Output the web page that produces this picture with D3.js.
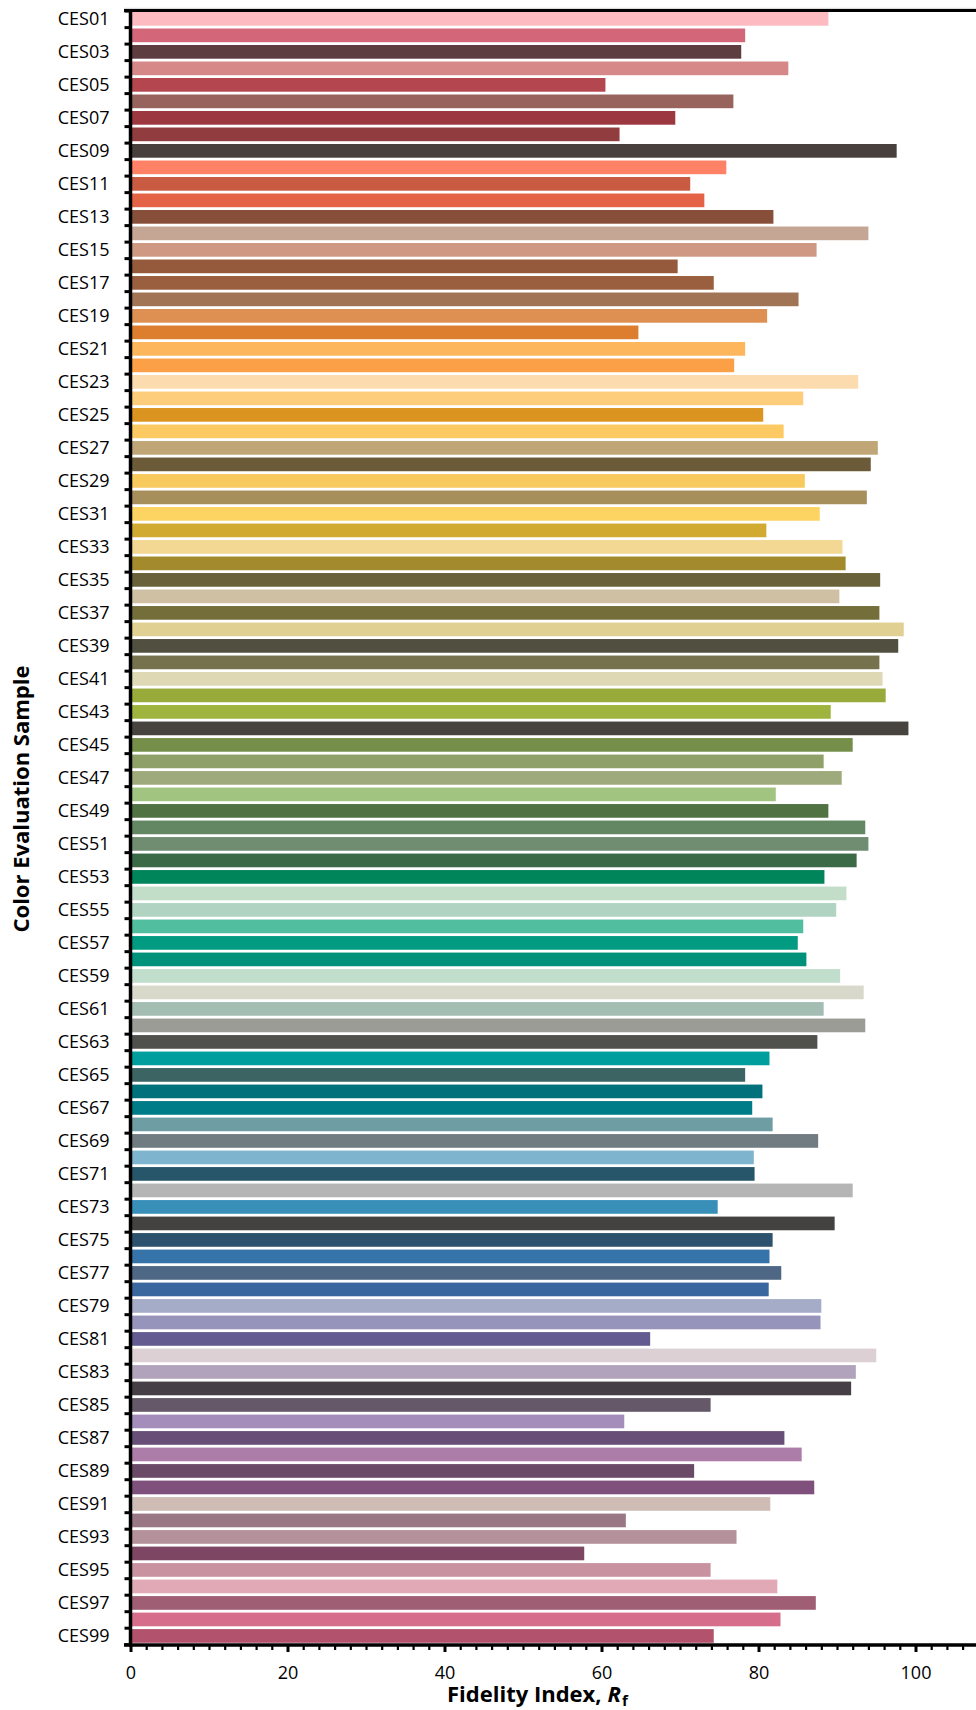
<!DOCTYPE html>
<html>
<head>
<meta charset="utf-8">
<script src="https://cdn.jsdelivr.net/npm/d3@7"></script>
<style>
  html, body { margin: 0; padding: 0; background: #fff; }
  svg { display: block; }
</style>
</head>
<body>
<script>
// ---------------- data ----------------
const samples = d3.range(1, 100).map(i => "CES" + String(i).padStart(2, "0"));

const fidelity = [
  88.9, 78.3, 77.8, 83.8, 60.5, 76.8, 69.4, 62.3, 97.6, 75.9,
  71.3, 73.1, 81.9, 94.0, 87.4, 69.7, 74.3, 85.1, 81.1, 64.7,
  78.3, 76.9, 92.7, 85.7, 80.6, 83.2, 95.2, 94.3, 85.9, 93.8,
  87.8, 81.0, 90.7, 91.1, 95.5, 90.3, 95.4, 98.5, 97.8, 95.4,
  95.8, 96.2, 89.2, 99.1, 92.0, 88.3, 90.6, 82.2, 88.9, 93.6,
  94.0, 92.5, 88.4, 91.2, 89.9, 85.7, 85.0, 86.1, 90.4, 93.4,
  88.3, 93.6, 87.5, 81.4, 78.3, 80.5, 79.2, 81.8, 87.6, 79.4,
  79.5, 92.0, 74.8, 89.7, 81.8, 81.4, 82.9, 81.3, 88.0, 87.9,
  66.2, 95.0, 92.4, 91.8, 73.9, 62.9, 83.3, 85.5, 71.8, 87.1,
  81.5, 63.1, 77.2, 57.8, 73.9, 82.4, 87.3, 82.8, 74.3
];

const barColors = [
  "#FDBBC1", "#D4667A", "#5D3D40", "#D68888", "#B4464F", "#98635C", "#9C3840", "#913D40", "#47403D", "#FF8266",
  "#C85B41", "#E46245", "#874E39", "#C5A694", "#CF9883", "#955A3B", "#9A5F3E", "#A17456", "#DE8F52", "#DC7E2E",
  "#FEB65C", "#FCA048", "#FCDBAF", "#FDCD7C", "#DC9421", "#FDC962", "#C0A677", "#6B5B38", "#F8C95C", "#A68F5B",
  "#FDD361", "#D1AA32", "#F3D893", "#A38B2D", "#68613A", "#CFBFA3", "#736E3A", "#E0D091", "#514F40", "#75724D",
  "#DFD8B5", "#97AA3A", "#9EB43E", "#47433F", "#758F4A", "#8FA168", "#9FAA7C", "#A1C480", "#517343", "#638763",
  "#718D71", "#3A6A46", "#00855A", "#C2DDC8", "#B0D4C1", "#52BEA0", "#009B80", "#00917A", "#C1DDCB", "#D9D9CB",
  "#A3BDB3", "#9A9C95", "#50504C", "#009E9C", "#3B6463", "#01727B", "#007C89", "#6E9EA3", "#717C82", "#7EB4CD",
  "#27566A", "#B4B5B4", "#3890B8", "#434241", "#2C526D", "#3673A9", "#4E6785", "#3A679D", "#A5ACC8", "#9694BB",
  "#645C91", "#DCD0D4", "#B2A3BC", "#463F45", "#655868", "#A58DBB", "#684F77", "#AB7DA8", "#6A4A67", "#80507C",
  "#CFBCB4", "#9A7784", "#B5919B", "#7D4662", "#C992A0", "#E1A8B5", "#A05E74", "#D66D8B", "#B2526D"
];

const xMajorTicks = [0, 20, 40, 60, 80, 100];
const xMinorTicks = d3.range(0, 110, 2);
const yTickLabels = samples.filter((d, i) => i % 2 === 0);

// ---------------- layout ----------------
const W = 976, H = 1710;
const x0 = 130.5, pxPerUnit = 7.85;
const yTop = 10.6, yBot = 1644.2;

const svg = d3.select("body").append("svg")
  .attr("width", W).attr("height", H)
  .attr("viewBox", `0 0 ${W} ${H}`);

const x = d3.scaleLinear().domain([0, 110]).range([x0, x0 + 110 * pxPerUnit]);
const y = d3.scaleBand().domain(samples).range([yTop, yBot])
  .paddingInner(0.17).paddingOuter(0.085);
const yEdge = d3.scaleLinear().domain([0, samples.length]).range([yTop, yBot]);

const FONT = "'Open Sans', 'Noto Sans', sans-serif";

// faint top border
svg.append("line")
  .attr("x1", 124).attr("x2", W).attr("y1", 8.3).attr("y2", 8.3)
  .attr("stroke", "#d4d4d4").attr("stroke-width", 1);

// bars
svg.append("g").selectAll("rect")
  .data(samples)
  .join("rect")
  .attr("x", x(0))
  .attr("y", d => y(d))
  .attr("height", y.bandwidth())
  .attr("width", (d, i) => x(fidelity[i]) - x(0))
  .attr("fill", (d, i) => barColors[i]);

// top frame line
svg.append("line")
  .attr("x1", 124).attr("x2", W).attr("y1", yTop).attr("y2", yTop)
  .attr("stroke", "#000").attr("stroke-width", 3);

// y axis: ticks at band edges
const yAxisTicks = svg.append("g")
  .attr("transform", `translate(${x0},0)`)
  .call(d3.axisLeft(yEdge).tickValues(d3.range(0, samples.length + 1)).tickSize(6).tickFormat(""));
yAxisTicks.select(".domain").remove();
yAxisTicks.selectAll(".tick line").attr("stroke", "#000").attr("stroke-width", 3);

// y axis labels
const yAxisLabels = svg.append("g")
  .attr("transform", `translate(${x0},0)`)
  .call(d3.axisLeft(y).tickValues(yTickLabels).tickSize(0).tickPadding(21));
yAxisLabels.select(".domain").remove();
yAxisLabels.selectAll(".tick text")
  .attr("font-family", FONT).attr("font-size", 18).attr("fill", "#000");

// y axis line
svg.append("line")
  .attr("x1", x0).attr("x2", x0).attr("y1", yTop - 1.5).attr("y2", 1646.5)
  .attr("stroke", "#000").attr("stroke-width", 3.5);

// x axis minor ticks
const axisY = 1645;
const xMinor = svg.append("g")
  .attr("transform", `translate(0,${axisY})`)
  .call(d3.axisBottom(x).tickValues(xMinorTicks.filter(v => v % 20 !== 0)).tickSize(5).tickFormat(""));
xMinor.select(".domain").remove();
xMinor.selectAll(".tick line").attr("stroke", "#000").attr("stroke-width", 2.2);

// x axis major ticks + labels
const xMajor = svg.append("g")
  .attr("transform", `translate(0,${axisY})`)
  .call(d3.axisBottom(x).tickValues(xMajorTicks).tickSize(7).tickPadding(14).tickFormat(d3.format("d")));
xMajor.select(".domain").remove();
xMajor.selectAll(".tick line").attr("stroke", "#000").attr("stroke-width", 3);
xMajor.selectAll(".tick text")
  .attr("font-family", FONT).attr("font-size", 18).attr("fill", "#000");

// x axis line
svg.append("line")
  .attr("x1", 124).attr("x2", W).attr("y1", axisY).attr("y2", axisY)
  .attr("stroke", "#000").attr("stroke-width", 3.5);

// x axis title
const xt = svg.append("text")
  .attr("x", 447).attr("y", 1701.5)
  .attr("font-family", FONT).attr("font-size", 22).attr("font-weight", "bold")
  .attr("fill", "#000");
xt.append("tspan").text("Fidelity Index,");
xt.append("tspan").attr("dx", 6).attr("font-style", "italic").text("R");
xt.append("tspan").attr("dx", 1).attr("font-size", 15).attr("dy", 4).text("f");

// y axis title
svg.append("text")
  .attr("transform", "translate(28.5,799) rotate(-90)")
  .attr("text-anchor", "middle")
  .attr("font-family", FONT).attr("font-size", 22).attr("font-weight", "bold")
  .attr("fill", "#000")
  .text("Color Evaluation Sample");
</script>
</body>
</html>
